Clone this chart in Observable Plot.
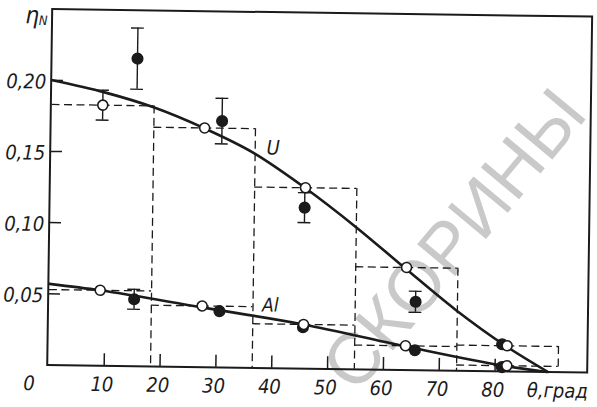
<!DOCTYPE html>
<html>
<head>
<meta charset="utf-8">
<script src="https://cdn.jsdelivr.net/npm/d3@7"></script>
<script src="https://cdn.jsdelivr.net/npm/@observablehq/plot@0.6"></script>
<style>
  html, body { margin: 0; padding: 0; background: #fff; }
  #chart svg { display: block; transform: rotate(0.8deg); transform-origin: 50% 50%; }
</style>
</head>
<body>
<div id="chart"></div>
<script>
// Angular bins (degrees) of the computed distributions
const binEdges = [0, 18.3, 36.5, 54.8, 73.1, 91.3];
const binCenters = [9.1, 27.4, 45.6, 63.9, 82.1];
// Computed η_N per bin (dashed histograms + open circles)
const uHist = [0.183, 0.168, 0.127, 0.072, 0.018];
const uHistErr = [0.0105, 0, 0, 0, 0];
const alHist = [0.053, 0.043, 0.031, 0.017, 0.004];

// Measured points (filled circles) with errors
const measuredTheta = [15.2, 30.5, 45.5, 65.6, 81.2];
const uMeasured = [0.216, 0.173, 0.113, 0.048, 0.019];
const uMeasuredErr = [0.0215, 0.016, 0.0105, 0.0074, 0];
const alMeasured = [0.047, 0.0395, 0.029, 0.014, 0.003];
const alMeasuredErr = [0.007, 0, 0, 0, 0];

// Smooth theoretical curves
const uCurveTheta = [0, 9.4, 18.2, 27.2, 36.2, 45.5, 54.7, 63.6, 72.7, 81.8, 89.5];
const uCurveEta = [0.200, 0.192, 0.182, 0.168, 0.151, 0.127, 0.100, 0.0716, 0.043, 0.018, 0];
const alCurveTheta = [0, 9.0, 27.3, 45.6, 63.8, 82.1, 89.3];
const alCurveEta = [0.057, 0.053, 0.042, 0.031, 0.0167, 0.0037, 0];

// Axes
const xTicks = [10, 20, 30, 40, 50, 60, 70, 80];
const yTicks = [0.05, 0.10, 0.15, 0.20];
const yTickLabels = ["0,05", "0,10", "0,15", "0,20"];
const xAxisTitle = "θ,град";
const curveLabels = [
  {x: 39.7, y: 0.1545, text: "U", size: 20},
  {x: 39.6, y: 0.044, text: "Al", size: 19}
];
const stamp = [{x: 72.5, y: 0.0916, text: "СКОРИНЫ"}];

const ink = "#1b1b1b";
const font = "'Liberation Sans Narrow', 'DejaVu Sans Condensed', 'Liberation Sans', sans-serif";

// histogram outline: one top segment per bin, one vertical per inner/outer bin edge
const tops = (vals) => vals.map((v, i) => ({x1: binEdges[i], x2: binEdges[i + 1], y: v}));
const sides = binEdges.map((x, i) => ({
  x, y: Math.max(uHist[i - 1] ?? 0, uHist[i] ?? 0)
})).filter(d => d.x > 0);
const pts = (xs, ys, es) => xs.map((x, i) => ({x, y: ys[i], e: es ? es[i] : 0}));
const curve = (xs, ys) => xs.map((x, i) => ({x, y: ys[i]}));

const uCalc = pts(binCenters, uHist, uHistErr);
const alCalc = pts(binCenters, alHist);
const uMeas = pts(measuredTheta, uMeasured, uMeasuredErr);
const alMeas = pts(measuredTheta, alMeasured, alMeasuredErr);
const errs = [...uCalc, ...uMeas, ...alMeas].filter(d => d.e > 0);
const capHalf = 1.15;
const dash = {stroke: ink, strokeWidth: 1.3, strokeDasharray: "8,4.5"};
const italic = {fontStyle: "italic", fill: ink};

const chart = Plot.plot({
  width: 597,
  height: 407,
  marginLeft: 49,
  marginRight: 8,
  marginTop: 12,
  marginBottom: 39,
  style: {background: "#fff", fontFamily: font},
  x: {domain: [-0.2, 96.5], axis: null},
  y: {domain: [0, 0.25], axis: null},
  marks: [
    Plot.text(stamp, {x: "x", y: "y", text: "text", rotate: -51,
      fontSize: 72, fill: "#c9c9c9", fontFamily: "'Liberation Sans', sans-serif"}),
    // dashed histograms
    Plot.ruleY([...tops(uHist), ...tops(alHist)], {x1: "x1", x2: "x2", y: "y", ...dash}),
    Plot.ruleX(sides, {x: "x", y1: "y", y2: 0, ...dash}),
    // error bars
    Plot.ruleX(errs, {x: "x", y1: d => d.y - d.e, y2: d => d.y + d.e, stroke: ink, strokeWidth: 1.4}),
    Plot.ruleY(errs, {y: d => d.y + d.e, x1: d => d.x - capHalf, x2: d => d.x + capHalf, stroke: ink, strokeWidth: 1.4}),
    Plot.ruleY(errs, {y: d => d.y - d.e, x1: d => d.x - capHalf, x2: d => d.x + capHalf, stroke: ink, strokeWidth: 1.4}),
    // frame and inward ticks
    Plot.frame({stroke: ink, strokeWidth: 2}),
    Plot.ruleX(xTicks, {x: d => d, y1: 0, y2: 0.0085, stroke: ink, strokeWidth: 1.5}),
    Plot.ruleY(yTicks, {y: d => d, x1: -0.2, x2: 2, stroke: ink, strokeWidth: 1.5}),
    // curves
    Plot.line(curve(uCurveTheta, uCurveEta), {x: "x", y: "y", curve: "monotone-x", stroke: ink, strokeWidth: 2.6}),
    Plot.line(curve(alCurveTheta, alCurveEta), {x: "x", y: "y", curve: "monotone-x", stroke: ink, strokeWidth: 2.6}),
    // measured points
    Plot.dot([...uMeas, ...alMeas], {x: "x", y: "y", r: 5.3, fill: ink, stroke: ink}),
    // computed points
    Plot.dot([...uCalc, ...alCalc], {x: "x", y: "y", r: 5, fill: "#fff", stroke: ink, strokeWidth: 1.6}),
    // tick labels
    Plot.text(yTicks, {x: 0, y: d => d, text: (d, i) => yTickLabels[i], textAnchor: "end", dx: -6, dy: 2,
      fontSize: 20, ...italic}),
    Plot.text(xTicks, {x: d => d, y: 0, text: d => String(d), dx: -2, dy: 19, fontSize: 20, ...italic}),
    Plot.text(["0"], {x: 0, y: 0, text: d => d, dx: -19, dy: 19, fontSize: 20, ...italic}),
    Plot.text([xAxisTitle], {x: 91.2, y: 0, text: d => d, dy: 19, fontSize: 20, ...italic}),
    // axis title η_N at the top of the y axis
    Plot.text(["η"], {x: 0, y: 0.25, text: d => d, textAnchor: "middle", lineAnchor: "middle",
      dx: -21, dy: 7, fontSize: 24, ...italic}),
    Plot.text(["N"], {x: 0, y: 0.25, text: d => d, textAnchor: "middle", lineAnchor: "middle",
      dx: -10, dy: 12, fontSize: 13, ...italic}),
    // curve labels
    Plot.text(curveLabels, {x: "x", y: "y", text: "text", fontSize: d => d.size, ...italic})
  ]
});
document.getElementById("chart").appendChild(chart);
</script>
</body>
</html>
